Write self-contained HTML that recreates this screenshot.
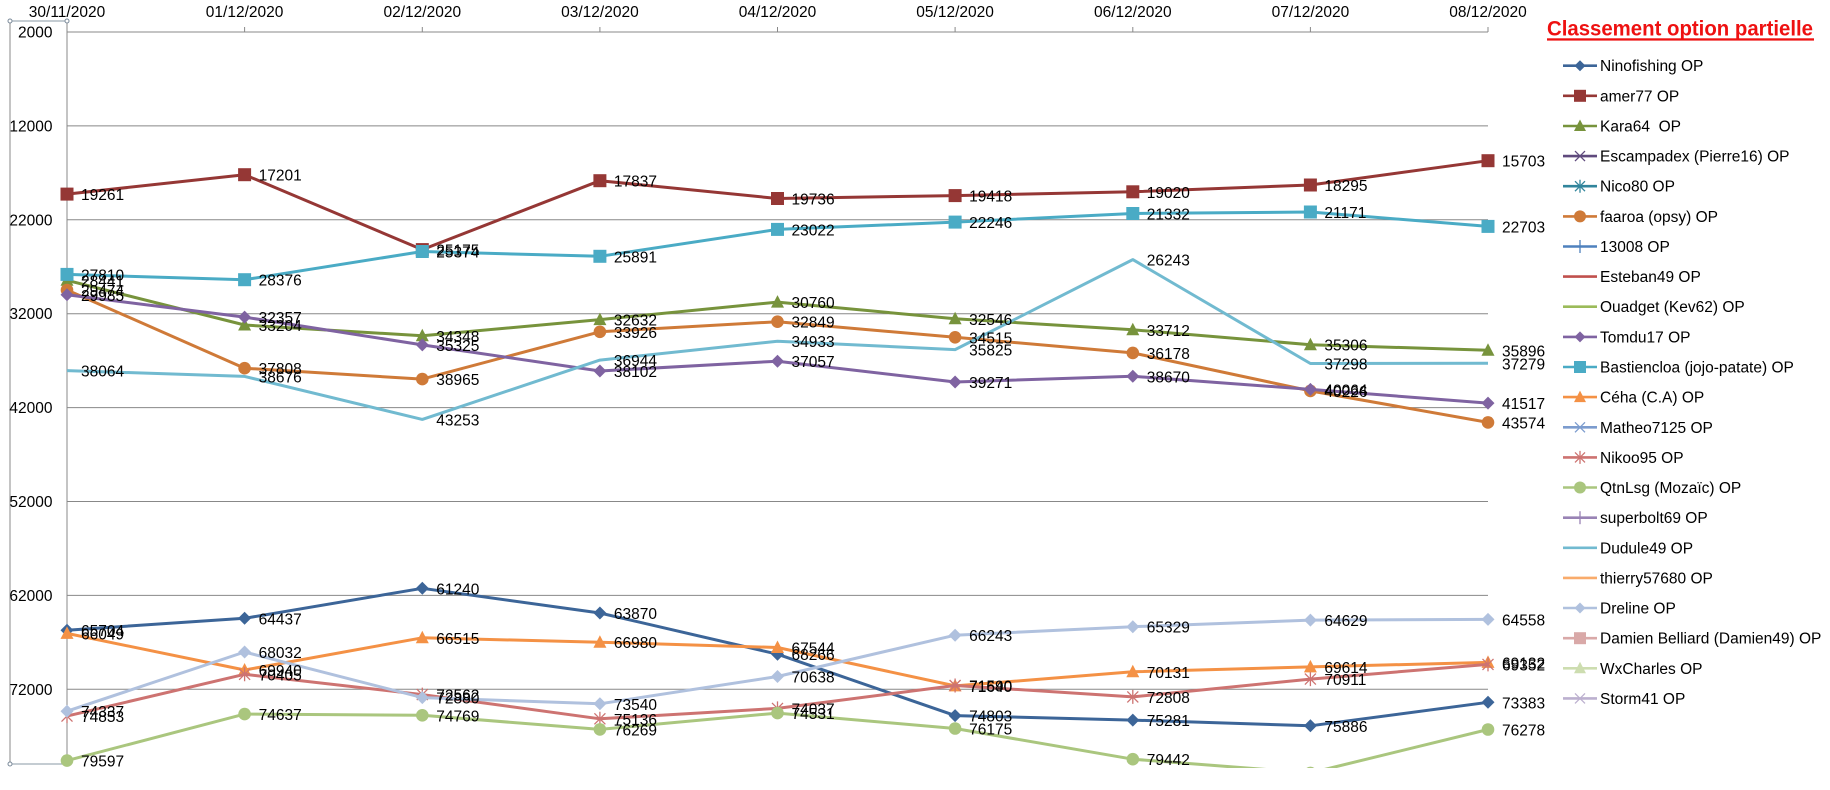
<!DOCTYPE html>
<html>
<head>
<meta charset="utf-8">
<style>
html,body{margin:0;padding:0;background:#fff;}
svg{display:block;}
text{font-family:"Liberation Sans",Arial,sans-serif;}
</style>
</head>
<body>
<svg width="1830" height="790" viewBox="0 0 1830 790" xmlns="http://www.w3.org/2000/svg">
<defs>
<clipPath id="clip"><rect x="0" y="0" width="1830" height="768"/></clipPath>
<marker id="m1" markerUnits="userSpaceOnUse" markerWidth="20" markerHeight="20" refX="0" refY="0" viewBox="-10 -10 20 20" overflow="visible"><path d="M0,-6.5L6.5,0L0,6.5L-6.5,0Z" fill="#3C6598"/></marker>
<marker id="m2" markerUnits="userSpaceOnUse" markerWidth="20" markerHeight="20" refX="0" refY="0" viewBox="-10 -10 20 20" overflow="visible"><rect x="-6.5" y="-6.5" width="13" height="13" fill="#953735"/></marker>
<marker id="m3" markerUnits="userSpaceOnUse" markerWidth="20" markerHeight="20" refX="0" refY="0" viewBox="-10 -10 20 20" overflow="visible"><path d="M0,-7L6.5,5.5L-6.5,5.5Z" fill="#77933C"/></marker>
<marker id="m6" markerUnits="userSpaceOnUse" markerWidth="20" markerHeight="20" refX="0" refY="0" viewBox="-10 -10 20 20" overflow="visible"><circle r="6.3" fill="#CF7A38"/></marker>
<marker id="m10" markerUnits="userSpaceOnUse" markerWidth="20" markerHeight="20" refX="0" refY="0" viewBox="-10 -10 20 20" overflow="visible"><path d="M0,-6.5L6.5,0L0,6.5L-6.5,0Z" fill="#7F63A1"/></marker>
<marker id="m11" markerUnits="userSpaceOnUse" markerWidth="20" markerHeight="20" refX="0" refY="0" viewBox="-10 -10 20 20" overflow="visible"><rect x="-6.5" y="-6.5" width="13" height="13" fill="#4AABC5"/></marker>
<marker id="m12" markerUnits="userSpaceOnUse" markerWidth="20" markerHeight="20" refX="0" refY="0" viewBox="-10 -10 20 20" overflow="visible"><path d="M0,-7L6.5,5.5L-6.5,5.5Z" fill="#F49145"/></marker>
<marker id="m14" markerUnits="userSpaceOnUse" markerWidth="20" markerHeight="20" refX="0" refY="0" viewBox="-10 -10 20 20" overflow="visible"><path d="M-5.5,-5.5L5.5,5.5M-5.5,5.5L5.5,-5.5M0,-7L0,7" stroke="#CD7371" stroke-width="1.3" fill="none"/></marker>
<marker id="m15" markerUnits="userSpaceOnUse" markerWidth="20" markerHeight="20" refX="0" refY="0" viewBox="-10 -10 20 20" overflow="visible"><circle r="6.3" fill="#AAC67E"/></marker>
<marker id="m19" markerUnits="userSpaceOnUse" markerWidth="20" markerHeight="20" refX="0" refY="0" viewBox="-10 -10 20 20" overflow="visible"><path d="M0,-6.5L6.5,0L0,6.5L-6.5,0Z" fill="#B0C1DE"/></marker>
</defs>

<rect width="1830" height="790" fill="#fff"/>

<!-- selection frame -->
<line x1="10" y1="21" x2="10" y2="764" stroke="#c4c4c4" stroke-width="2"/>
<line x1="10" y1="21" x2="67" y2="21" stroke="#8a98a6" stroke-width="1"/>
<line x1="10" y1="764" x2="67" y2="764" stroke="#8a98a6" stroke-width="1"/>

<!-- gridlines -->
<g stroke="#888" stroke-width="1">
<line x1="67" y1="32" x2="1488" y2="32"/>
<line x1="67" y1="125.9" x2="1488" y2="125.9"/>
<line x1="67" y1="219.8" x2="1488" y2="219.8"/>
<line x1="67" y1="313.7" x2="1488" y2="313.7"/>
<line x1="67" y1="407.6" x2="1488" y2="407.6"/>
<line x1="67" y1="501.5" x2="1488" y2="501.5"/>
<line x1="67" y1="595.4" x2="1488" y2="595.4"/>
<line x1="67" y1="689.3" x2="1488" y2="689.3"/>
<line x1="67" y1="21" x2="67" y2="764"/>
<line x1="244.6" y1="27" x2="244.6" y2="32"/>
<line x1="422.3" y1="27" x2="422.3" y2="32"/>
<line x1="599.9" y1="27" x2="599.9" y2="32"/>
<line x1="777.5" y1="27" x2="777.5" y2="32"/>
<line x1="955.1" y1="27" x2="955.1" y2="32"/>
<line x1="1132.8" y1="27" x2="1132.8" y2="32"/>
<line x1="1310.4" y1="27" x2="1310.4" y2="32"/>
<line x1="1488" y1="27" x2="1488" y2="32"/>
</g>
<g fill="#fff" stroke="#7a8a9a" stroke-width="1">
<circle cx="10" cy="21" r="2"/><circle cx="67" cy="21" r="2"/>
<circle cx="10" cy="764" r="2"/><circle cx="67" cy="764" r="2"/>
</g>

<!-- y axis labels -->
<g font-size="15.5" fill="#000" text-anchor="end">
<text x="52.5" y="37.5">2000</text>
<text x="52.5" y="131.4">12000</text>
<text x="52.5" y="225.3">22000</text>
<text x="52.5" y="319.2">32000</text>
<text x="52.5" y="413.1">42000</text>
<text x="52.5" y="507">52000</text>
<text x="52.5" y="600.9">62000</text>
<text x="52.5" y="694.8">72000</text>
</g>

<!-- x axis labels -->
<g font-size="15.5" fill="#000" text-anchor="middle">
<text x="67" y="17">30/11/2020</text>
<text x="244.6" y="17">01/12/2020</text>
<text x="422.3" y="17">02/12/2020</text>
<text x="599.9" y="17">03/12/2020</text>
<text x="777.5" y="17">04/12/2020</text>
<text x="955.1" y="17">05/12/2020</text>
<text x="1132.8" y="17">06/12/2020</text>
<text x="1310.4" y="17">07/12/2020</text>
<text x="1488" y="17">08/12/2020</text>
</g>

<g clip-path="url(#clip)">
<g fill="none" stroke-width="3" stroke-linejoin="round">
<polyline stroke="#3C6598" marker-start="url(#m1)" marker-mid="url(#m1)" marker-end="url(#m1)" points="67,630.2 244.6,618.3 422.3,588.3 599.9,613.0 777.5,654.2 955.1,715.6 1132.8,720.1 1310.4,725.8 1488,702.3"/>
<polyline stroke="#953735" marker-start="url(#m2)" marker-mid="url(#m2)" marker-end="url(#m2)" points="67,194.1 244.6,174.7 422.3,249.6 599.9,180.7 777.5,198.5 955.1,195.6 1132.8,191.8 1310.4,185.0 1488,160.7"/>
<polyline stroke="#77933C" marker-start="url(#m3)" marker-mid="url(#m3)" marker-end="url(#m3)" points="67,280.3 244.6,325.0 422.3,335.8 599.9,319.6 777.5,302.1 955.1,318.8 1132.8,329.8 1310.4,344.7 1488,350.3"/>
<polyline stroke="#CF7A38" marker-start="url(#m6)" marker-mid="url(#m6)" marker-end="url(#m6)" points="67,290.0 244.6,368.2 422.3,379.1 599.9,331.8 777.5,321.7 955.1,337.3 1132.8,352.9 1310.4,390.9 1488,422.4"/>
<polyline stroke="#7F63A1" marker-start="url(#m10)" marker-mid="url(#m10)" marker-end="url(#m10)" points="67,294.8 244.6,317.1 422.3,344.9 599.9,371.0 777.5,361.2 955.1,382.0 1132.8,376.3 1310.4,389.4 1488,403.1"/>
<polyline stroke="#4AABC5" marker-start="url(#m11)" marker-mid="url(#m11)" marker-end="url(#m11)" points="67,274.4 244.6,279.7 422.3,251.5 599.9,256.3 777.5,229.4 955.1,222.1 1132.8,213.5 1310.4,212.0 1488,226.4"/>
<polyline stroke="#F49145" marker-start="url(#m12)" marker-mid="url(#m12)" marker-end="url(#m12)" points="67,633.4 244.6,670.0 422.3,637.8 599.9,642.2 777.5,647.5 955.1,685.9 1132.8,671.8 1310.4,666.9 1488,662.4"/>
<polyline stroke="#CD7371" marker-start="url(#m14)" marker-mid="url(#m14)" marker-end="url(#m14)" points="67,716.1 244.6,674.3 422.3,694.6 599.9,718.8 777.5,708.4 955.1,685.5 1132.8,696.9 1310.4,679.1 1488,664.4"/>
<polyline stroke="#AAC67E" marker-start="url(#m15)" marker-mid="url(#m15)" marker-end="url(#m15)" points="67,760.6 244.6,714.1 422.3,715.3 599.9,729.4 777.5,713.1 955.1,728.5 1132.8,759.2 1310.4,772.9 1488,729.5"/>
<polyline stroke="#71BAD0" points="67,370.6 244.6,376.4 422.3,419.4 599.9,360.1 777.5,341.2 955.1,349.6 1132.8,259.6 1310.4,363.5 1488,363.3"/>
<polyline stroke="#B0C1DE" marker-start="url(#m19)" marker-mid="url(#m19)" marker-end="url(#m19)" points="67,711.2 244.6,652.0 422.3,697.6 599.9,703.8 777.5,676.5 955.1,635.2 1132.8,626.7 1310.4,620.1 1488,619.4"/>
</g>

<g font-size="15.5" fill="#000">
<!-- Ninofishing -->
<text x="81" y="636.2">65704</text><text x="258.6" y="624.3">64437</text><text x="436.3" y="594.3">61240</text><text x="613.9" y="619.0">63870</text><text x="791.5" y="660.2">68266</text><text x="969.1" y="721.6">74803</text><text x="1146.8" y="726.1">75281</text><text x="1324.4" y="731.8">75886</text><text x="1502" y="708.3">73383</text>
<!-- amer77 -->
<text x="81" y="200.1">19261</text><text x="258.6" y="180.7">17201</text><text x="436.3" y="255.6">25175</text><text x="613.9" y="186.7">17837</text><text x="791.5" y="204.5">19736</text><text x="969.1" y="201.6">19418</text><text x="1146.8" y="197.8">19020</text><text x="1324.4" y="191.0">18295</text><text x="1502" y="166.7">15703</text>
<!-- Kara64 -->
<text x="81" y="286.3">28441</text><text x="258.6" y="331.0">33204</text><text x="436.3" y="341.8">34348</text><text x="613.9" y="325.6">32632</text><text x="791.5" y="308.1">30760</text><text x="969.1" y="324.8">32546</text><text x="1146.8" y="335.8">33712</text><text x="1324.4" y="350.7">35306</text><text x="1502" y="356.3">35896</text>
<!-- faaroa -->
<text x="81" y="296.0">29474</text><text x="258.6" y="374.2">37808</text><text x="436.3" y="385.1">38965</text><text x="613.9" y="337.8">33926</text><text x="791.5" y="327.7">32849</text><text x="969.1" y="343.3">34515</text><text x="1146.8" y="358.9">36178</text><text x="1324.4" y="396.9">40226</text><text x="1502" y="428.4">43574</text>
<!-- Tomdu17 -->
<text x="81" y="300.8">29985</text><text x="258.6" y="323.1">32357</text><text x="436.3" y="350.9">35325</text><text x="613.9" y="377.0">38102</text><text x="791.5" y="367.2">37057</text><text x="969.1" y="388.0">39271</text><text x="1146.8" y="382.3">38670</text><text x="1324.4" y="395.4">40064</text><text x="1502" y="409.1">41517</text>
<!-- Bastiencloa -->
<text x="81" y="280.4">27810</text><text x="258.6" y="285.7">28376</text><text x="436.3" y="257.5">25374</text><text x="613.9" y="262.3">25891</text><text x="791.5" y="235.4">23022</text><text x="969.1" y="228.1">22246</text><text x="1146.8" y="219.5">21332</text><text x="1324.4" y="218.0">21171</text><text x="1502" y="232.4">22703</text>
<!-- Céha -->
<text x="81" y="639.4">66049</text><text x="258.6" y="676.0">69940</text><text x="436.3" y="643.8">66515</text><text x="613.9" y="648.2">66980</text><text x="791.5" y="653.5">67544</text><text x="969.1" y="691.9">71640</text><text x="1146.8" y="677.8">70131</text><text x="1324.4" y="672.9">69614</text><text x="1502" y="668.4">69132</text>
<!-- Nikoo95 -->
<text x="81" y="722.1">74853</text><text x="258.6" y="680.3">70405</text><text x="436.3" y="700.6">72562</text><text x="613.9" y="724.8">75136</text><text x="791.5" y="714.4">74037</text><text x="969.1" y="691.5">71590</text><text x="1146.8" y="702.9">72808</text><text x="1324.4" y="685.1">70911</text><text x="1502" y="670.4">69352</text>
<!-- QtnLsg -->
<text x="81" y="766.6">79597</text><text x="258.6" y="720.1">74637</text><text x="436.3" y="721.3">74769</text><text x="613.9" y="735.4">76269</text><text x="791.5" y="719.1">74531</text><text x="969.1" y="734.5">76175</text><text x="1146.8" y="765.2">79442</text><text x="1324.4" y="778.9">80900</text><text x="1502" y="735.5">76278</text>
<!-- Dudule49 -->
<text x="81" y="376.6">38064</text><text x="258.6" y="382.4">38676</text><text x="436.3" y="425.4">43253</text><text x="613.9" y="366.1">36944</text><text x="791.5" y="347.2">34933</text><text x="969.1" y="355.6">35825</text><text x="1146.8" y="265.6">26243</text><text x="1324.4" y="369.5">37298</text><text x="1502" y="369.3">37279</text>
<!-- Dreline -->
<text x="81" y="717.2">74337</text><text x="258.6" y="658.0">68032</text><text x="436.3" y="703.6">72880</text><text x="613.9" y="709.8">73540</text><text x="791.5" y="682.5">70638</text><text x="969.1" y="641.2">66243</text><text x="1146.8" y="632.7">65329</text><text x="1324.4" y="626.1">64629</text><text x="1502" y="625.4">64558</text>
</g>
</g>

<!-- title -->
<text x="1547" y="35.7" font-size="21" font-weight="bold" fill="#EE1111" textLength="266" lengthAdjust="spacingAndGlyphs">Classement option partielle</text>
<rect x="1547" y="38.3" width="267" height="2.3" fill="#EE1111"/>

<!-- legend -->
<g stroke-width="2.6" fill="none">
<line x1="1563" y1="65.7" x2="1597" y2="65.7" stroke="#3C6598"/>
<line x1="1563" y1="95.8" x2="1597" y2="95.8" stroke="#953735"/>
<line x1="1563" y1="126.0" x2="1597" y2="126.0" stroke="#77933C"/>
<line x1="1563" y1="156.1" x2="1597" y2="156.1" stroke="#5F4A7D"/>
<line x1="1563" y1="186.2" x2="1597" y2="186.2" stroke="#31859C"/>
<line x1="1563" y1="216.4" x2="1597" y2="216.4" stroke="#CF7A38"/>
<line x1="1563" y1="246.5" x2="1597" y2="246.5" stroke="#4F81BD"/>
<line x1="1563" y1="276.6" x2="1597" y2="276.6" stroke="#C0504D"/>
<line x1="1563" y1="306.7" x2="1597" y2="306.7" stroke="#9BBB59"/>
<line x1="1563" y1="336.9" x2="1597" y2="336.9" stroke="#7F63A1"/>
<line x1="1563" y1="367.0" x2="1597" y2="367.0" stroke="#4AABC5"/>
<line x1="1563" y1="397.1" x2="1597" y2="397.1" stroke="#F49145"/>
<line x1="1563" y1="427.3" x2="1597" y2="427.3" stroke="#7C9CCE"/>
<line x1="1563" y1="457.4" x2="1597" y2="457.4" stroke="#CD7371"/>
<line x1="1563" y1="487.5" x2="1597" y2="487.5" stroke="#AAC67E"/>
<line x1="1563" y1="517.7" x2="1597" y2="517.7" stroke="#9983B5"/>
<line x1="1563" y1="547.8" x2="1597" y2="547.8" stroke="#71BAD0"/>
<line x1="1563" y1="577.9" x2="1597" y2="577.9" stroke="#F9AB6B"/>
<line x1="1563" y1="608.0" x2="1597" y2="608.0" stroke="#B0C1DE"/>
<line x1="1563" y1="638.2" x2="1597" y2="638.2" stroke="#D9A9A8"/>
<line x1="1563" y1="668.3" x2="1597" y2="668.3" stroke="#CDDDB0"/>
<line x1="1563" y1="698.4" x2="1597" y2="698.4" stroke="#BCB0CF"/>
</g>
<!-- legend markers -->
<path d="M1580,60.2L1585.5,65.7L1580,71.2L1574.5,65.7Z" fill="#3C6598"/>
<rect x="1574" y="89.8" width="12" height="12" fill="#953735"/>
<path d="M1580,119.5L1586,131L1574,131Z" fill="#77933C"/>
<path d="M1575,151.1L1585,161.1M1575,161.1L1585,151.1" stroke="#5F4A7D" stroke-width="1.3"/>
<path d="M1575,181.2L1585,191.2M1575,191.2L1585,181.2M1580,179.7L1580,192.7" stroke="#31859C" stroke-width="1.3"/>
<circle cx="1580" cy="216.4" r="6" fill="#CF7A38"/>
<path d="M1580,240L1580,253" stroke="#4F81BD" stroke-width="1.3"/>
<path d="M1580,331.4L1585.5,336.9L1580,342.4L1574.5,336.9Z" fill="#7F63A1"/>
<rect x="1574" y="361" width="12" height="12" fill="#4AABC5"/>
<path d="M1580,390.6L1586,402.1L1574,402.1Z" fill="#F49145"/>
<path d="M1575,422.3L1585,432.3M1575,432.3L1585,422.3" stroke="#7C9CCE" stroke-width="1.3"/>
<path d="M1575,452.4L1585,462.4M1575,462.4L1585,452.4M1580,450.9L1580,463.9" stroke="#CD7371" stroke-width="1.3"/>
<circle cx="1580" cy="487.5" r="6" fill="#AAC67E"/>
<path d="M1580,511.2L1580,524.2" stroke="#9983B5" stroke-width="1.3"/>
<path d="M1580,602.5L1585.5,608L1580,613.5L1574.5,608Z" fill="#B0C1DE"/>
<rect x="1574" y="632.2" width="12" height="12" fill="#D9A9A8"/>
<path d="M1580,661.8L1586,673.3L1574,673.3Z" fill="#CDDDB0"/>
<path d="M1575,693.4L1585,703.4M1575,703.4L1585,693.4" stroke="#BCB0CF" stroke-width="1.3"/>

<g font-size="15.5" fill="#000" style="white-space:pre">
<text x="1600" y="71.2">Ninofishing OP</text>
<text x="1600" y="101.3">amer77 OP</text>
<text x="1600" y="131.5" xml:space="preserve">Kara64  OP</text>
<text x="1600" y="161.6">Escampadex (Pierre16) OP</text>
<text x="1600" y="191.7">Nico80 OP</text>
<text x="1600" y="221.9">faaroa (opsy) OP</text>
<text x="1600" y="252.0">13008 OP</text>
<text x="1600" y="282.1">Esteban49 OP</text>
<text x="1600" y="312.2">Ouadget (Kev62) OP</text>
<text x="1600" y="342.4">Tomdu17 OP</text>
<text x="1600" y="372.5">Bastiencloa (jojo-patate) OP</text>
<text x="1600" y="402.6">Céha (C.A) OP</text>
<text x="1600" y="432.8">Matheo7125 OP</text>
<text x="1600" y="462.9">Nikoo95 OP</text>
<text x="1600" y="493.0">QtnLsg (Mozaïc) OP</text>
<text x="1600" y="523.2">superbolt69 OP</text>
<text x="1600" y="553.3">Dudule49 OP</text>
<text x="1600" y="583.4">thierry57680 OP</text>
<text x="1600" y="613.5">Dreline OP</text>
<text x="1600" y="643.7">Damien Belliard (Damien49) OP</text>
<text x="1600" y="673.8">WxCharles OP</text>
<text x="1600" y="703.9">Storm41 OP</text>
</g>
</svg>
</body>
</html>
